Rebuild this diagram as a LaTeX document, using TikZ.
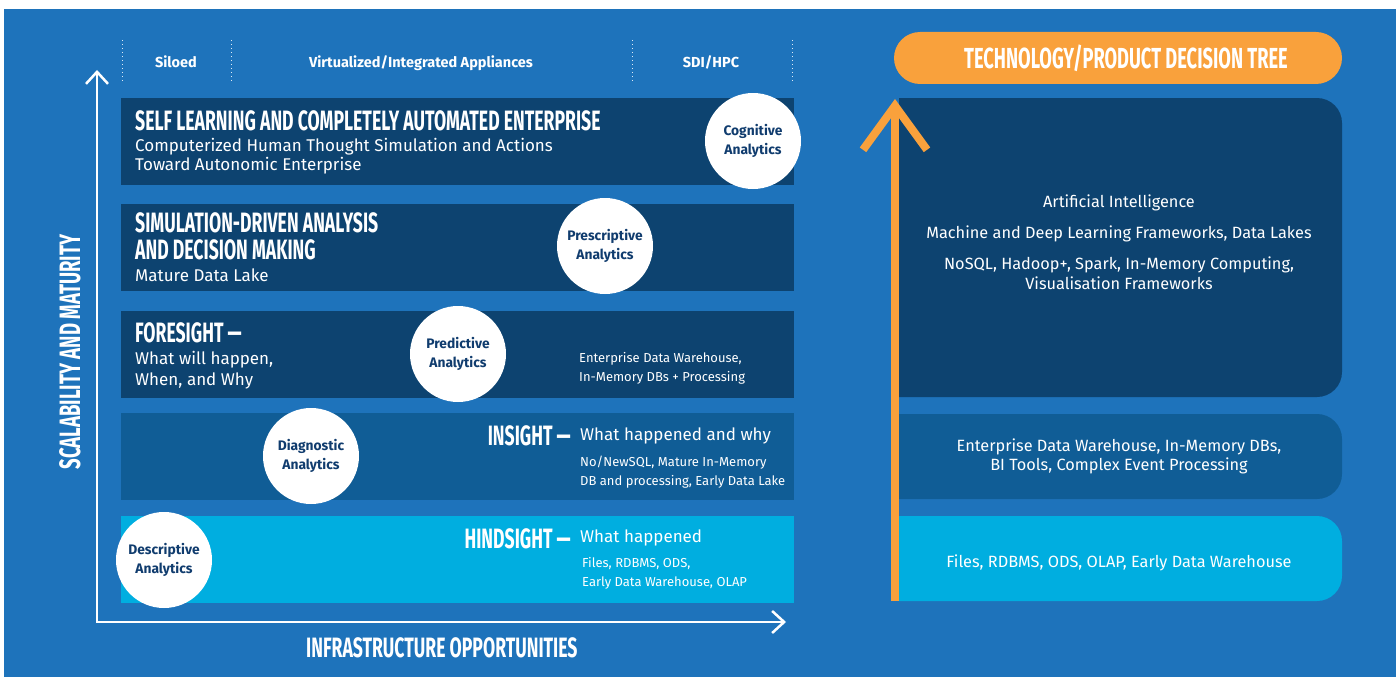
\documentclass[tikz,border=0pt]{standalone}
\usepackage{fontspec}
\setmainfont{Fira Sans}
\newfontfamily\condfont{Fira Sans}[FakeStretch=0.63]
\usetikzlibrary{arrows.meta}
\definecolor{bgblue}{RGB}{30,115,187}
\definecolor{navy}{RGB}{13,67,112}
\definecolor{midblue}{RGB}{16,93,150}
\definecolor{skyband}{RGB}{0,174,224}
\definecolor{orng}{RGB}{249,161,60}
\definecolor{circtext}{RGB}{16,60,110}
\tikzset{
  band/.style={anchor=north west, minimum width=673pt, minimum height=87pt, inner sep=0pt, outer sep=0pt},
  circ/.style={circle, fill=white, minimum size=96pt, inner sep=0pt, align=center, text=circtext, font=\bfseries\fontsize{13.8}{19}\selectfont},
  ttl/.style={text=white, inner sep=0pt, font=\condfont\bfseries\fontsize{28}{27}\selectfont},
  body/.style={text=white, inner sep=0pt, anchor=base west, font=\fontsize{17}{19}\selectfont},
  small/.style={text=white, inner sep=0pt, anchor=base west, font=\fontsize{13}{19}\selectfont},
  hdr/.style={text=white, inner sep=0pt, anchor=base, font=\bfseries\fontsize{14.5}{16}\selectfont},
  rtext/.style={text=white, inner sep=0pt, anchor=base, font=\fontsize{16.3}{19}\selectfont},
  axis/.style={white, line width=2.5pt, {Straight Barb[length=12pt,width=22pt]}-{Straight Barb[length=12pt,width=22pt]}},
  dots/.style={white!85!bgblue, line width=1pt, dash pattern=on 1pt off 3pt},
  orarrow/.style={orng, line width=8pt, -{Straight Barb[length=44pt,width=64pt,sharp]}},
  pill/.style={fill=orng, rounded corners=26pt, minimum width=448pt, minimum height=52pt, inner sep=0pt},
}
\begin{document}
\begin{tikzpicture}[x=1pt,y=-1pt]
\useasboundingbox (0,0) rectangle (1398,677);
\fill[white] (0,0) rectangle (1398,677);
\fill[bgblue] (4,9) rectangle (1396,677);

% header dotted separators
\foreach \xx/\nm in {122/d1,231/d2,632/d3,792/d4}{
  \coordinate (\nm t) at (\xx,40);
  \coordinate (\nm b) at (\xx,82);
  \draw[dots] (\nm t) -- (\nm b);
}
\node[hdr] (h1) at (176,68) {Siloed};
\node[hdr] (h2) at (421,68) {Virtualized/Integrated Appliances};
\node[hdr] (h3) at (711,68) {SDI/HPC};

% bands
\node[band, fill=navy] (b1) at (121,98) {};
\node[band, fill=navy] (b2) at (121,204) {};
\node[band, fill=navy] (b3) at (121,311) {};
\node[band, fill=midblue] (b4) at (121,413) {};
\node[band, fill=skyband] (b5) at (121,516) {};

% axes
\coordinate (O) at (97,622);
\coordinate (ytop) at (97,70);
\coordinate (xend) at (786,622);
\draw[axis] (ytop) -- (O) -- (xend);
\node[ttl, rotate=90, anchor=base, font=\condfont\bfseries\fontsize{29.5}{30}\selectfont] (ylab) at (80,352) {SCALABILITY AND MATURITY};
\node[ttl, anchor=base west] (xlab) at (306,657) {INFRASTRUCTURE OPPORTUNITIES};

% band 1
\node[ttl, anchor=base west] (t1) at (135,130) {SELF LEARNING AND COMPLETELY AUTOMATED ENTERPRISE};
\node[body] (s1a) at (135,151) {Computerized Human Thought Simulation and Actions};
\node[body] (s1b) at (135,170) {Toward Autonomic Enterprise};
% band 2
\node[ttl, anchor=south west, align=left] (t2) at (135,260) {SIMULATION-DRIVEN ANALYSIS\\AND DECISION MAKING};
\node[body] (s2) at (135,281) {Mature Data Lake};
% band 3
\node[ttl, anchor=base west] (t3) at (135,342) {FORESIGHT —};
\node[body] (s3a) at (135,364) {What will happen,};
\node[body] (s3b) at (135,385) {When, and Why};
\node[small] (r3a) at (579,362) {Enterprise Data Warehouse,};
\node[small] (r3b) at (579,381) {In-Memory DBs + Processing};
% band 4
\node[ttl, anchor=base east] (t4) at (571,445) {INSIGHT —};
\node[body] (s4) at (580,440) {What happened and why};
\node[small] (r4a) at (580,466) {No/NewSQL, Mature In-Memory};
\node[small] (r4b) at (580,485) {DB and processing, Early Data Lake};
% band 5
\node[ttl, anchor=base east] (t5) at (571,548) {HINDSIGHT —};
\node[body] (s5) at (580,542) {What happened};
\node[small] (r5a) at (582,567) {Files, RDBMS, ODS,};
\node[small] (r5b) at (582,586) {Early Data Warehouse, OLAP};

% circles
\node[circ] (c1) at (753,141) {Cognitive\\Analytics};
\node[circ] (c2) at (605,246) {Prescriptive\\Analytics};
\node[circ] (c3) at (458,354) {Predictive\\Analytics};
\node[circ] (c4) at (311,456) {Diagnostic\\Analytics};
\node[circ] (c5) at (164,560) {Descriptive\\Analytics};

% right side
\node[pill] (pill) at (1118,58) {};
\node[ttl, anchor=base, font=\condfont\bfseries\fontsize{29}{30}\selectfont] (pilltxt) at (1126,69) {TECHNOLOGY/PRODUCT DECISION TREE};

\begin{scope}
  \clip (899,0) rectangle (1398,677);
  \fill[navy, rounded corners=25pt] (860,98) rectangle (1342,397);
  \fill[midblue, rounded corners=25pt] (860,414) rectangle (1342,499);
  \fill[skyband, rounded corners=25pt] (860,516) rectangle (1342,601);
\end{scope}
\node[rtext] (p1a) at (1119,207) {Artificial Intelligence};
\node[rtext] (p1b) at (1119,238) {Machine and Deep Learning Frameworks, Data Lakes};
\node[rtext] (p1c) at (1119,269) {NoSQL, Hadoop+, Spark, In-Memory Computing,};
\node[rtext] (p1d) at (1119,289) {Visualisation Frameworks};
\node[rtext] (p2a) at (1119,451) {Enterprise Data Warehouse, In-Memory DBs,};
\node[rtext] (p2b) at (1119,470) {BI Tools, Complex Event Processing};
\node[rtext] (p3) at (1119,567) {Files, RDBMS, ODS, OLAP, Early Data Warehouse};

\coordinate (obot) at (895,601);
\coordinate (otop) at (895,99);
\draw[orarrow] (obot) -- (otop);
\end{tikzpicture}
\end{document}
